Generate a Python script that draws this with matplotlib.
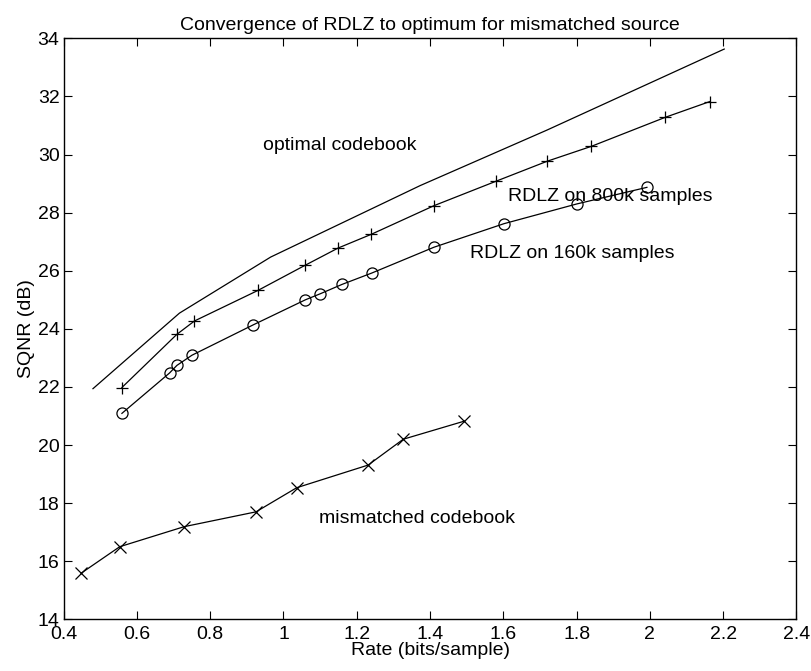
import matplotlib
matplotlib.use("Agg")
import matplotlib.pyplot as plt

plt.rcParams['font.family'] = ['Liberation Sans', 'DejaVu Sans']

# optimal codebook (line only)
opt_rate = [0.48, 0.716, 0.965, 1.373, 1.719, 2.203]
opt_sqnr = [21.94, 24.54, 26.47, 28.93, 30.84, 33.63]

# RDLZ on 800k samples (+)
r800_rate = [0.559, 0.709, 0.757, 0.930, 1.058, 1.149, 1.239, 1.411, 1.580, 1.720, 1.840, 2.042, 2.163]
r800_sqnr = [21.98, 23.81, 24.27, 25.32, 26.18, 26.78, 27.25, 28.24, 29.08, 29.77, 30.28, 31.28, 31.82]

# RDLZ on 160k samples (o)
r160_rate = [0.559, 0.689, 0.709, 0.750, 0.918, 1.060, 1.101, 1.160, 1.241, 1.411, 1.602, 1.801, 1.992]
r160_sqnr = [21.09, 22.48, 22.74, 23.09, 24.14, 25.00, 25.21, 25.53, 25.92, 26.81, 27.62, 28.30, 28.87]

# mismatched codebook (x)
mis_rate = [0.448, 0.553, 0.729, 0.925, 1.036, 1.231, 1.327, 1.493]
mis_sqnr = [15.59, 16.50, 17.19, 17.70, 18.53, 19.31, 20.20, 20.82]

labels = ["optimal codebook", "RDLZ on 800k samples", "RDLZ on 160k samples", "mismatched codebook"]
label_pos = [(0.944, 30.3), (1.613, 28.56), (1.509, 26.6), (1.098, 17.48)]

xticks = [0.4, 0.6, 0.8, 1, 1.2, 1.4, 1.6, 1.8, 2, 2.2, 2.4]
xticklabels = ["0.4", "0.6", "0.8", "1", "1.2", "1.4", "1.6", "1.8", "2", "2.2", "2.4"]
yticks = list(range(14, 35, 2))

fig = plt.figure(figsize=(8.11, 6.71), dpi=100)
ax = fig.add_axes([0.0785, 0.077, 0.9035, 0.8659])

lw = 0.9
ax.plot(opt_rate, opt_sqnr, color='black', lw=lw)
ax.plot(r800_rate, r800_sqnr, color='black', lw=lw, marker='+', ms=8, mew=0.9)
ax.plot(r160_rate, r160_sqnr, color='black', lw=lw, marker='o', ms=8, mfc='none', mew=0.9)
ax.plot(mis_rate, mis_sqnr, color='black', lw=lw, marker='x', ms=8, mew=0.9)

fs = 14
for t, (x, y) in zip(labels, label_pos):
    ax.text(x, y, t, fontsize=fs, ha='left', va='center')

ax.set_xlim(0.4, 2.4)
ax.set_ylim(14, 34)
ax.set_xticks(xticks)
ax.set_xticklabels(xticklabels)
ax.set_yticks(yticks)
ax.tick_params(direction='in', top=True, right=True, length=6, width=0.8, labelsize=fs)
ax.tick_params(axis='x', pad=5)
ax.tick_params(axis='y', pad=3)
for s in ax.spines.values():
    s.set_linewidth(1.0)

ax.set_xlabel("Rate (bits/sample)", fontsize=fs, labelpad=-1)
ax.set_ylabel("SQNR (dB)", fontsize=fs, labelpad=2)
ax.set_title("Convergence of RDLZ to optimum for mismatched source", fontsize=fs, pad=6)

fig.savefig("out.png", dpi=100)
